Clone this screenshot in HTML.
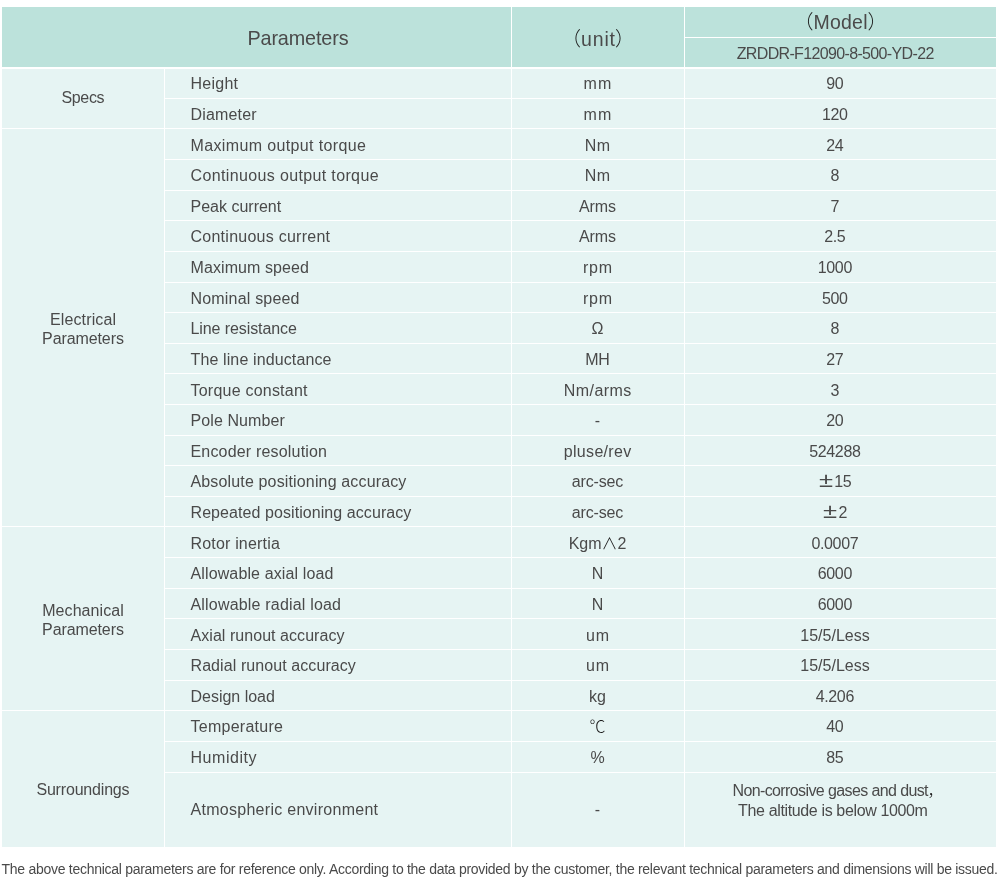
<!DOCTYPE html>
<html lang="en">
<head>
<meta charset="utf-8">
<title>Technical parameters</title>
<style>
html,body{margin:0;padding:0;background:#fff;}
body{width:1000px;height:889px;position:relative;overflow:hidden;font-family:"Liberation Sans", "Noto Sans CJK SC", sans-serif;font-weight:300;color:#4a4a4a;}
table{position:absolute;left:1px;top:6px;border-collapse:separate;border-spacing:1px;background:#fff;table-layout:fixed;width:996px;font-size:16px;}
th,td{padding:0;margin:0;font-weight:300;text-align:center;white-space:nowrap;overflow:visible;background:#e6f4f3;vertical-align:middle;}
thead th{background:#bce2db;}
.hp{font-size:19.8px;line-height:60px;}
.hp .t{left:41.5px;top:1px}
.hu{font-size:19.5px;line-height:60px;}
.hm{font-size:19.5px;height:30px;line-height:30px;}
.hn{font-size:16px;height:29px;line-height:29px;padding-right:10px;}
.w{position:relative} .hu .w{top:2px} .hm .w{top:0px} .hn .t{top:1px}
td.p{text-align:left;padding-left:25.5px;}
td.v{padding-right:11px}
td.u{padding-right:1px}
tbody tr:first-child>*{border-top:1px solid #fff}
.t{position:relative;white-space:nowrap;}
td.p .t, td.u .t, td.v .t, .pm{top:var(--dy)}
.pm{position:relative;display:inline-block;width:16px;text-align:center;font-size:21px;line-height:10px;margin-top:0px;transform:scaleX(1.22);left:-0.5px;}
.ml{display:block;line-height:19px;position:relative;}
.ml .t{top:0 !important}
.sm{font-size:16px;line-height:20px;top:-9px;left:-2px}
.cm{display:inline-block;width:6px;margin-left:-1px;overflow:visible;text-align:left}
.g0{top:-1px} .g1{top:1px} .g2{top:1px} .g3{top:10px}
.cj{color:#1c1c1c}
.foot{position:absolute;margin:0;left:1.6px;top:859px;font-size:14px;line-height:20px;white-space:nowrap;}
</style>
</head>
<body>
<table>
<colgroup><col style="width:162px"><col style="width:346px"><col style="width:172px"><col style="width:311px"></colgroup>
<thead>
<tr><th class="hp" colspan="2" rowspan="2"><span class="t" style="letter-spacing:-0.120px;margin-right:0.120px">Parameters</span></th><th class="hu" rowspan="2"><span class="w"><span class="cj">（</span><span class="t" style="letter-spacing:0.863px;margin-right:-0.863px">unit</span><span class="cj">）</span></span></th><th class="hm"><span class="w"><span class="cj">（</span><span class="t" style="letter-spacing:0.256px;margin-right:-0.256px">Model</span><span class="cj">）</span></span></th></tr>
<tr><th class="hn"><span class="t" style="letter-spacing:-0.648px;margin-right:0.648px">ZRDDR-F12090-8-500-YD-22</span></th></tr>
</thead>
<tbody>
<tr style="--dy:0px"><th class="grp" rowspan="2" scope="rowgroup"><div class="ml g0"><span class="t" style="letter-spacing:-0.334px;margin-right:0.334px">Specs</span></div></th><td class="p" style="height:29px;line-height:29px"><span class="t" style="letter-spacing:0.263px;margin-right:-0.263px">Height</span></td><td class="u" style="line-height:29px"><span class="t" style="letter-spacing:1.141px;margin-right:-1.141px">mm</span></td><td class="v" style="line-height:29px"><span class="t" style="letter-spacing:-0.336px;margin-right:0.336px">90</span></td></tr>
<tr style="--dy:1px"><td class="p" style="height:29px;line-height:29px"><span class="t" style="letter-spacing:0.174px;margin-right:-0.174px">Diameter</span></td><td class="u" style="line-height:29px"><span class="t" style="letter-spacing:1.141px;margin-right:-1.141px">mm</span></td><td class="v" style="line-height:29px"><span class="t" style="letter-spacing:-0.339px;margin-right:0.339px">120</span></td></tr>
<tr style="--dy:2px"><th class="grp" rowspan="13" scope="rowgroup"><div class="ml g1"><span class="t" style="letter-spacing:0.125px;margin-right:-0.125px">Electrical</span><br><span class="t" style="letter-spacing:-0.097px;margin-right:0.097px">Parameters</span></div></th><td class="p" style="height:30px;line-height:30px"><span class="t" style="letter-spacing:0.365px;margin-right:-0.365px">Maximum output torque</span></td><td class="u" style="line-height:30px"><span class="t" style="letter-spacing:0.445px;margin-right:-0.445px">Nm</span></td><td class="v" style="line-height:30px"><span class="t" style="letter-spacing:-0.336px;margin-right:0.336px">24</span></td></tr>
<tr style="--dy:1px"><td class="p" style="height:30px;line-height:30px"><span class="t" style="letter-spacing:0.363px;margin-right:-0.363px">Continuous output torque</span></td><td class="u" style="line-height:30px"><span class="t" style="letter-spacing:0.445px;margin-right:-0.445px">Nm</span></td><td class="v" style="line-height:30px"><span class="t" style="letter-spacing:-0.344px;margin-right:0.344px">8</span></td></tr>
<tr style="--dy:1px"><td class="p" style="height:29px;line-height:29px"><span class="t">Peak current</span></td><td class="u" style="line-height:29px"><span class="t" style="letter-spacing:-0.117px;margin-right:0.117px">Arms</span></td><td class="v" style="line-height:29px"><span class="t" style="letter-spacing:-0.344px;margin-right:0.344px">7</span></td></tr>
<tr style="--dy:1px"><td class="p" style="height:30px;line-height:30px"><span class="t" style="letter-spacing:0.255px;margin-right:-0.255px">Continuous current</span></td><td class="u" style="line-height:30px"><span class="t" style="letter-spacing:-0.117px;margin-right:0.117px">Arms</span></td><td class="v" style="line-height:30px"><span class="t" style="letter-spacing:-0.375px;margin-right:0.375px">2.5</span></td></tr>
<tr style="--dy:1px"><td class="p" style="height:30px;line-height:30px"><span class="t" style="letter-spacing:0.088px;margin-right:-0.088px">Maximum speed</span></td><td class="u" style="line-height:30px"><span class="t" style="letter-spacing:0.776px;margin-right:-0.776px">rpm</span></td><td class="v" style="line-height:30px"><span class="t" style="letter-spacing:-0.336px;margin-right:0.336px">1000</span></td></tr>
<tr style="--dy:1px"><td class="p" style="height:29px;line-height:29px"><span class="t" style="letter-spacing:0.191px;margin-right:-0.191px">Nominal speed</span></td><td class="u" style="line-height:29px"><span class="t" style="letter-spacing:0.776px;margin-right:-0.776px">rpm</span></td><td class="v" style="line-height:29px"><span class="t" style="letter-spacing:-0.339px;margin-right:0.339px">500</span></td></tr>
<tr style="--dy:1px"><td class="p" style="height:30px;line-height:30px"><span class="t" style="letter-spacing:-0.094px;margin-right:0.094px">Line resistance</span></td><td class="u" style="line-height:30px"><span class="t" style="letter-spacing:-0.203px;margin-right:0.203px">Ω</span></td><td class="v" style="line-height:30px"><span class="t" style="letter-spacing:-0.344px;margin-right:0.344px">8</span></td></tr>
<tr style="--dy:1px"><td class="p" style="height:29px;line-height:29px"><span class="t" style="letter-spacing:0.123px;margin-right:-0.123px">The line inductance</span></td><td class="u" style="line-height:29px"><span class="t" style="letter-spacing:-0.469px;margin-right:0.469px">MH</span></td><td class="v" style="line-height:29px"><span class="t" style="letter-spacing:-0.336px;margin-right:0.336px">27</span></td></tr>
<tr style="--dy:2px"><td class="p" style="height:30px;line-height:30px"><span class="t" style="letter-spacing:0.222px;margin-right:-0.222px">Torque constant</span></td><td class="u" style="line-height:30px"><span class="t" style="letter-spacing:0.429px;margin-right:-0.429px">Nm/arms</span></td><td class="v" style="line-height:30px"><span class="t" style="letter-spacing:-0.344px;margin-right:0.344px">3</span></td></tr>
<tr style="--dy:1px"><td class="p" style="height:30px;line-height:30px"><span class="t" style="letter-spacing:0.098px;margin-right:-0.098px">Pole Number</span></td><td class="u" style="line-height:30px"><span class="t">-</span></td><td class="v" style="line-height:30px"><span class="t" style="letter-spacing:-0.336px;margin-right:0.336px">20</span></td></tr>
<tr style="--dy:1px"><td class="p" style="height:29px;line-height:29px"><span class="t" style="letter-spacing:0.181px;margin-right:-0.181px">Encoder resolution</span></td><td class="u" style="line-height:29px"><span class="t" style="letter-spacing:0.307px;margin-right:-0.307px">pluse/rev</span></td><td class="v" style="line-height:29px"><span class="t" style="letter-spacing:-0.336px;margin-right:0.336px">524288</span></td></tr>
<tr style="--dy:1px"><td class="p" style="height:30px;line-height:30px"><span class="t" style="letter-spacing:0.149px;margin-right:-0.149px">Absolute positioning accuracy</span></td><td class="u" style="line-height:30px"><span class="t" style="letter-spacing:-0.176px;margin-right:0.176px">arc-sec</span></td><td class="v" style="line-height:30px"><span class="pm">±</span><span class="t" style="letter-spacing:-0.336px;margin-right:0.336px">15</span></td></tr>
<tr style="--dy:1px"><td class="p" style="height:29px;line-height:29px"><span class="t" style="letter-spacing:0.073px;margin-right:-0.073px">Repeated positioning accuracy</span></td><td class="u" style="line-height:29px"><span class="t" style="letter-spacing:-0.176px;margin-right:0.176px">arc-sec</span></td><td class="v" style="line-height:29px"><span class="pm">±</span><span class="t" style="letter-spacing:-0.344px;margin-right:0.344px">2</span></td></tr>
<tr style="--dy:2px"><th class="grp" rowspan="6" scope="rowgroup"><div class="ml g2"><span class="t" style="letter-spacing:0.081px;margin-right:-0.081px">Mechanical</span><br><span class="t" style="letter-spacing:-0.097px;margin-right:0.097px">Parameters</span></div></th><td class="p" style="height:30px;line-height:30px"><span class="t" style="letter-spacing:0.178px;margin-right:-0.178px">Rotor inertia</span></td><td class="u" style="line-height:30px"><span class="t" style="letter-spacing:-0.022px;margin-right:0.022px">Kgm<span class="cj">∧</span>2</span></td><td class="v" style="line-height:30px"><span class="t" style="letter-spacing:-0.354px;margin-right:0.354px">0.0007</span></td></tr>
<tr style="--dy:1px"><td class="p" style="height:30px;line-height:30px"><span class="t" style="letter-spacing:0.124px;margin-right:-0.124px">Allowable axial load</span></td><td class="u" style="line-height:30px"><span class="t" style="letter-spacing:-0.250px;margin-right:0.250px">N</span></td><td class="v" style="line-height:30px"><span class="t" style="letter-spacing:-0.336px;margin-right:0.336px">6000</span></td></tr>
<tr style="--dy:1px"><td class="p" style="height:29px;line-height:29px"><span class="t" style="letter-spacing:0.188px;margin-right:-0.188px">Allowable radial load</span></td><td class="u" style="line-height:29px"><span class="t" style="letter-spacing:-0.250px;margin-right:0.250px">N</span></td><td class="v" style="line-height:29px"><span class="t" style="letter-spacing:-0.336px;margin-right:0.336px">6000</span></td></tr>
<tr style="--dy:2px"><td class="p" style="height:30px;line-height:30px"><span class="t" style="letter-spacing:0.052px;margin-right:-0.052px">Axial runout accuracy</span></td><td class="u" style="line-height:30px"><span class="t" style="letter-spacing:0.828px;margin-right:-0.828px">um</span></td><td class="v" style="line-height:30px"><span class="t" style="letter-spacing:0.016px;margin-right:-0.016px">15/5/Less</span></td></tr>
<tr style="--dy:1px"><td class="p" style="height:30px;line-height:30px"><span class="t" style="letter-spacing:0.082px;margin-right:-0.082px">Radial runout accuracy</span></td><td class="u" style="line-height:30px"><span class="t" style="letter-spacing:0.828px;margin-right:-0.828px">um</span></td><td class="v" style="line-height:30px"><span class="t" style="letter-spacing:0.016px;margin-right:-0.016px">15/5/Less</span></td></tr>
<tr style="--dy:1px"><td class="p" style="height:29px;line-height:29px"><span class="t" style="letter-spacing:-0.014px;margin-right:0.014px">Design load</span></td><td class="u" style="line-height:29px"><span class="t" style="letter-spacing:-0.016px;margin-right:0.016px">kg</span></td><td class="v" style="line-height:29px"><span class="t" style="letter-spacing:-0.359px;margin-right:0.359px">4.206</span></td></tr>
<tr style="--dy:1px"><th class="grp" rowspan="3" scope="rowgroup"><div class="ml g3"><span class="t" style="letter-spacing:-0.181px;margin-right:0.181px">Surroundings</span></div></th><td class="p" style="height:30px;line-height:30px"><span class="t" style="letter-spacing:0.267px;margin-right:-0.267px">Temperature</span></td><td class="u" style="line-height:30px"><span class="t"><span class="cj">℃</span></span></td><td class="v" style="line-height:30px"><span class="t" style="letter-spacing:-0.336px;margin-right:0.336px">40</span></td></tr>
<tr style="--dy:1px"><td class="p" style="height:30px;line-height:30px"><span class="t" style="letter-spacing:0.549px;margin-right:-0.549px">Humidity</span></td><td class="u" style="line-height:30px"><span class="t" style="letter-spacing:0.125px;margin-right:-0.125px">%</span></td><td class="v" style="line-height:30px"><span class="t" style="letter-spacing:-0.336px;margin-right:0.336px">85</span></td></tr>
<tr style="--dy:0px"><td class="p" style="height:74px;line-height:74px"><span class="t" style="letter-spacing:0.279px;margin-right:-0.279px">Atmospheric environment</span></td><td class="u" style="line-height:74px"><span class="t">-</span></td><td class="v"><div class="ml sm"><span class="t" style="letter-spacing:-0.609px;margin-right:0.609px">Non-corrosive gases and dust</span><span class="cm"><span class="cj">，</span></span><br><span class="t" style="letter-spacing:-0.361px;margin-right:0.361px">The altitude is below 1000m</span></div></td></tr>
</tbody>
</table>
<p class="foot"><span class="t" style="letter-spacing:-0.283px;margin-right:0.283px">The above technical parameters are for reference only. According to the data provided by the customer, the relevant technical parameters and dimensions will be issued.</span></p>
</body>
</html>
